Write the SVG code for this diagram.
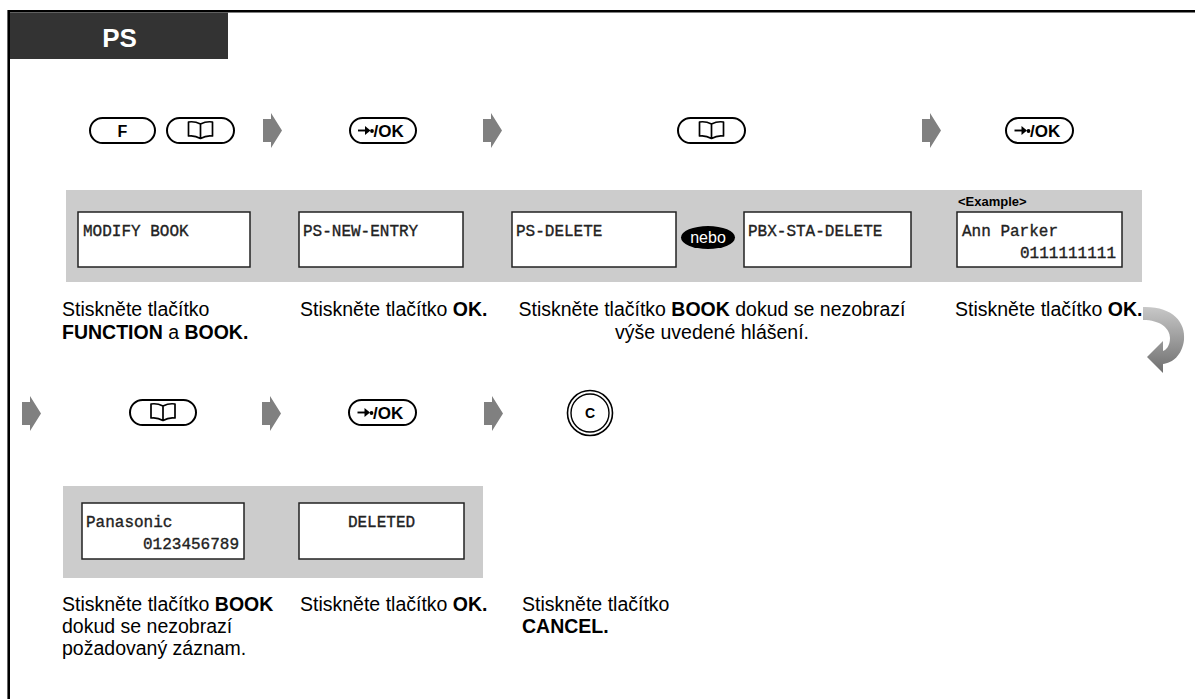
<svg xmlns="http://www.w3.org/2000/svg" width="1195" height="699" viewBox="0 0 1195 699">
<style>
.frame{fill:none;stroke:#000;stroke-width:2.6}
.btn{fill:#fff;stroke:#000;stroke-width:2}
.band{fill:#cccccc}
.lcd{fill:#fff;stroke:#222;stroke-width:1.5}
.mono{font-family:"Liberation Mono","DejaVu Sans Mono",monospace;font-size:16px;fill:#222;stroke:#222;stroke-width:0.35}
.desc{font-family:"Liberation Sans",Arial,sans-serif;font-size:19.5px;fill:#000}
.b{font-weight:bold}
.btxt{font-family:"Liberation Sans",Arial,sans-serif;font-weight:bold;fill:#000}
.step{fill:#808080}
.icon{fill:#fff;stroke:#000;stroke-width:1.7;stroke-linejoin:round}
</style>
<defs>
<polygon id="stepArrow" class="step" points="0,6 8,6 8,0 19,17.5 8,35 8,29 0,29"/>
<g id="bookIcon">
<path class="icon" d="M0,-6 Q-6,-9 -12,-8 L-12,6 Q-6,5 0,8.5 Q6,5 12,6 L12,-8 Q6,-9 0,-6 Z M0,-6 L0,8.5"/>
</g>
<g id="okLabel">
<line x1="-25" y1="0" x2="-17" y2="0" stroke="#000" stroke-width="1.9"/>
<polygon points="-18,-4.5 -12.5,0 -18,4.5" fill="#000"/>
<circle cx="-11" cy="0.5" r="1.9" fill="#000"/>
<text x="-9.5" y="6" class="btxt" font-size="17">/OK</text>
</g>
<linearGradient id="curveGrad" x1="0" y1="0" x2="0" y2="1">
<stop offset="0" stop-color="#c8c8c8"/>
<stop offset="1" stop-color="#6e6e6e"/>
</linearGradient>
</defs>

<g id="frame">
<line class="frame" x1="8" y1="11.3" x2="1195" y2="11.3"/>
<line class="frame" x1="8.7" y1="10" x2="8.7" y2="699"/>
<rect x="10" y="12.6" width="218" height="46.4" fill="#333333"/>
<text x="119.5" y="47" text-anchor="middle" font-family="Liberation Sans,Arial,sans-serif" font-weight="bold" font-size="26" fill="#fff">PS</text>
</g>

<g id="bands">
<rect class="band" x="66" y="190" width="1076" height="92"/>
<rect class="band" x="63" y="486" width="420" height="92"/>
</g>

<g id="connectors">
<use href="#stepArrow" x="263" y="113"/>
<use href="#stepArrow" x="483" y="113"/>
<use href="#stepArrow" x="922" y="113"/>
<use href="#stepArrow" x="22" y="396"/>
<use href="#stepArrow" x="262" y="396"/>
<use href="#stepArrow" x="484" y="396"/>
<path d="M1143,307 C1172,306 1186,322 1184,340 C1182,356 1172,363 1163,364 L1163,373 L1147,357 L1163,341 L1163,351 C1166,350 1170,346 1170,338 C1170,328 1160,320 1143,320 Z" fill="url(#curveGrad)"/>
</g>

<g id="btn-f">
<rect class="btn" x="90" y="118" width="65" height="25" rx="12.5"/>
<text x="122.5" y="136.5" text-anchor="middle" class="btxt" font-size="16">F</text>
</g>
<g id="btn-book1">
<rect class="btn" x="167" y="118" width="67" height="25" rx="12.5"/>
<use href="#bookIcon" x="200.5" y="130"/>
</g>
<g id="btn-ok1">
<rect class="btn" x="350" y="118" width="66" height="25" rx="12.5"/>
<use href="#okLabel" x="383" y="130.5"/>
</g>
<g id="btn-book2">
<rect class="btn" x="678" y="118" width="67" height="25" rx="12.5"/>
<use href="#bookIcon" x="711.5" y="130"/>
</g>
<g id="btn-ok2">
<rect class="btn" x="1006" y="118" width="67" height="25" rx="12.5"/>
<use href="#okLabel" x="1039.5" y="130.5"/>
</g>

<g id="lcd-modify">
<rect class="lcd" x="78" y="212" width="172" height="55"/>
<text x="83" y="236" class="mono">MODIFY BOOK</text>
</g>
<g id="lcd-newentry">
<rect class="lcd" x="299" y="212" width="164" height="55"/>
<text x="303" y="236" class="mono">PS-NEW-ENTRY</text>
</g>
<g id="lcd-psdelete">
<rect class="lcd" x="512" y="212" width="164" height="55"/>
<text x="516" y="236" class="mono">PS-DELETE</text>
</g>
<g id="nebo">
<ellipse cx="708" cy="237.5" rx="27" ry="11.5" fill="#000"/>
<text x="708" y="243" text-anchor="middle" font-family="Liberation Sans,Arial,sans-serif" font-size="16" fill="#fff">nebo</text>
</g>
<g id="lcd-pbxdelete">
<rect class="lcd" x="744" y="212" width="167" height="55"/>
<text x="748" y="236" class="mono">PBX-STA-DELETE</text>
</g>
<g id="lcd-example">
<text x="958" y="206" font-family="Liberation Sans,Arial,sans-serif" font-weight="bold" font-size="13">&lt;Example&gt;</text>
<rect class="lcd" x="957" y="212" width="165" height="55"/>
<text x="962" y="236" class="mono">Ann Parker</text>
<text x="1116" y="258" class="mono" text-anchor="end">0111111111</text>
</g>

<g id="desc-row1">
<text class="desc" x="62" y="316">Stiskněte tlačítko</text>
<text class="desc" x="62" y="339"><tspan class="b">FUNCTION</tspan> a <tspan class="b">BOOK.</tspan></text>
<text class="desc" x="300" y="316">Stiskněte tlačítko <tspan class="b">OK.</tspan></text>
<text class="desc" x="712" y="316" text-anchor="middle">Stiskněte tlačítko <tspan class="b">BOOK</tspan> dokud se nezobrazí</text>
<text class="desc" x="712" y="339" text-anchor="middle">výše uvedené hlášení.</text>
<text class="desc" x="955" y="316">Stiskněte tlačítko <tspan class="b">OK.</tspan></text>
</g>

<g id="btn-book3">
<rect class="btn" x="130" y="400" width="66" height="25" rx="12.5"/>
<use href="#bookIcon" x="163" y="412"/>
</g>
<g id="btn-ok3">
<rect class="btn" x="349" y="400" width="67" height="25" rx="12.5"/>
<use href="#okLabel" x="382.5" y="412.5"/>
</g>
<g id="btn-cancel">
<circle cx="590" cy="413" r="22.5" fill="#fff" stroke="#000" stroke-width="1.6"/>
<circle cx="590" cy="413" r="19" fill="none" stroke="#000" stroke-width="1.4"/>
<text x="590" y="418" text-anchor="middle" class="btxt" font-size="14">C</text>
</g>

<g id="lcd-panasonic">
<rect class="lcd" x="82" y="503" width="162" height="56"/>
<text x="86" y="527" class="mono">Panasonic</text>
<text x="239" y="549" class="mono" text-anchor="end">0123456789</text>
</g>
<g id="lcd-deleted">
<rect class="lcd" x="299" y="503" width="165" height="56"/>
<text x="381.5" y="527" class="mono" text-anchor="middle">DELETED</text>
</g>

<g id="desc-row2">
<text class="desc" x="62" y="611">Stiskněte tlačítko <tspan class="b">BOOK</tspan></text>
<text class="desc" x="62" y="633">dokud se nezobrazí</text>
<text class="desc" x="62" y="655">požadovaný záznam.</text>
<text class="desc" x="300" y="611">Stiskněte tlačítko <tspan class="b">OK.</tspan></text>
<text class="desc" x="522" y="611">Stiskněte tlačítko</text>
<text class="desc" x="522" y="633" font-weight="bold">CANCEL.</text>
</g>
</svg>
